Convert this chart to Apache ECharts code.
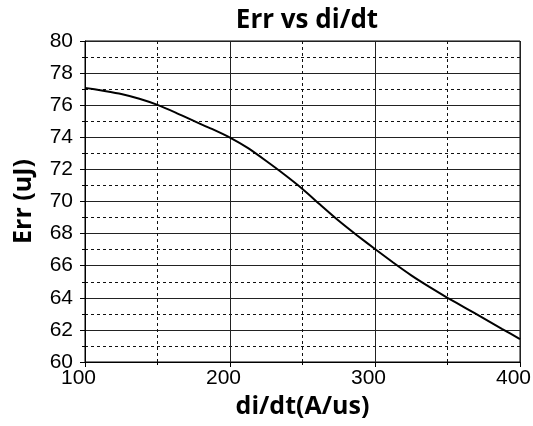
<!DOCTYPE html>
<html>
<head>
<meta charset="utf-8">
<script src="https://cdn.jsdelivr.net/npm/echarts@6/dist/echarts.min.js"></script>
<style>html,body{margin:0;padding:0;background:#fff}#c{width:533px;height:426px}</style>
</head>
<body>
<div id="c"></div>
<script>
const titleText = 'Err vs di/dt';
const xName = 'di/dt(A/us)';
const yName = 'Err (uJ)';
const xValues = [100,112.5,125,137.5,150,162.5,175,187.5,200,212.5,225,237.5,250,262.5,275,287.5,300,312.5,325,337.5,350,362.5,375,387.5,400];
const errValues = [77.08,76.9,76.7,76.4,76.02,75.54,75.02,74.52,73.98,73.32,72.52,71.68,70.78,69.78,68.8,67.9,67.04,66.2,65.4,64.68,64.0,63.36,62.72,62.07,61.43];

const chart = echarts.init(document.getElementById('c'), null, {renderer:'canvas'});
const labelFont = {color:'#000', fontFamily:'Liberation Sans, Arial, sans-serif', fontSize:21};
const nameFont = {fontFamily:'Open Sans, sans-serif',fontWeight:'bold',fontSize:25,color:'#000'};
chart.setOption({
  animation:false,
  backgroundColor:'#fff',
  title:{text:titleText,left:302,top:3,textAlign:'center',
    textStyle:{fontFamily:'Open Sans, sans-serif',fontWeight:'bold',fontSize:26,color:'#000'}},
  grid:{left:85,right:13,top:41,bottom:64,show:true,borderColor:'#000',borderWidth:1,
    containLabel:false,outerBoundsMode:'none'},
  xAxis:{type:'value',min:100,max:400,interval:100,
    name:xName,nameLocation:'middle',nameGap:31,nameTextStyle:nameFont,
    axisLine:{show:true,lineStyle:{color:'#000'}},
    axisTick:{show:true,length:5,lineStyle:{color:'#000'}},
    minorTick:{show:true,splitNumber:2,length:3,lineStyle:{color:'#000'}},
    axisLabel:Object.assign({margin:6,hideOverlap:false,padding:[0,13,0,0]},labelFont),
    splitLine:{show:true,lineStyle:{color:'#222',width:1}},
    minorSplitLine:{show:true,lineStyle:{color:'#111',width:1,type:[3,3]}}
  },
  yAxis:{type:'value',min:60,max:80,interval:2,
    name:yName,nameLocation:'middle',nameGap:49,nameTextStyle:nameFont,
    axisLine:{show:true,lineStyle:{color:'#000'}},
    axisTick:{show:true,length:5,lineStyle:{color:'#000'}},
    minorTick:{show:true,splitNumber:2,length:3,lineStyle:{color:'#000'}},
    axisLabel:Object.assign({margin:12,hideOverlap:false},labelFont),
    splitLine:{show:true,lineStyle:{color:'#222',width:1}},
    minorSplitLine:{show:true,lineStyle:{color:'#111',width:1,type:[3,3]}}
  },
  series:[{type:'line',data:xValues.map((x,i)=>[x,errValues[i]]),
    showSymbol:false,smooth:0.2,lineStyle:{color:'#000',width:2},z:5}]
});
</script>
</body>
</html>
